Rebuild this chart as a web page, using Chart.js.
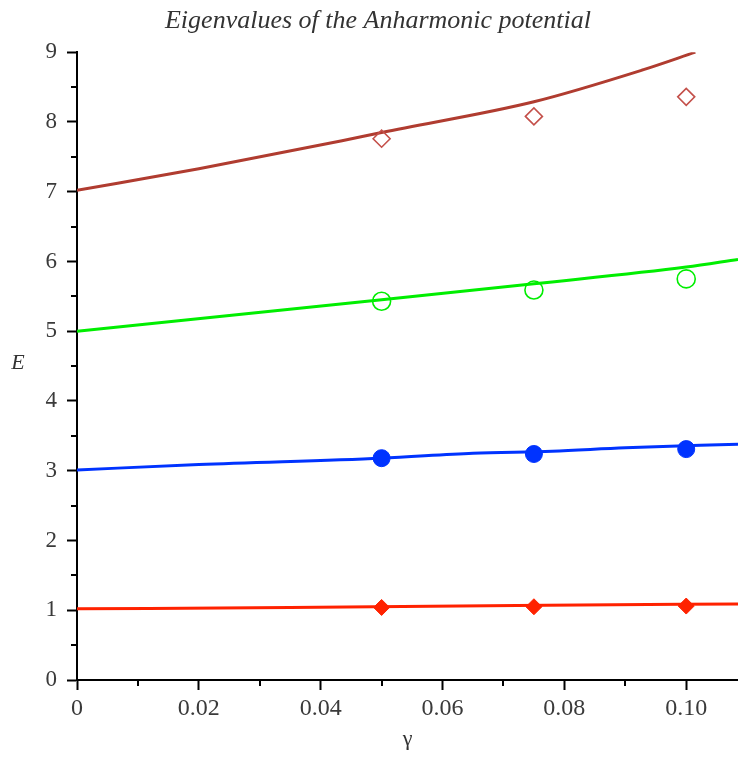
<!DOCTYPE html>
<html>
<head>
<meta charset="utf-8">
<script src="https://cdn.jsdelivr.net/npm/chart.js@4/dist/chart.umd.min.js"></script>
<style>
  body { margin: 0; background: #fff; }
  #wrap { width: 738px; height: 757px; position: relative; }
</style>
</head>
<body>
<div id="wrap"><canvas id="chart"></canvas></div>
<script>
// curves (gamma, E)
const redLineG = [0, 0.035, 0.077, 0.1085];
const redLineE = [1.02, 1.04, 1.07, 1.09];
const blueLineG = [0, 0.02, 0.05, 0.065, 0.078, 0.09, 0.1085];
const blueLineE = [3.01, 3.09, 3.18, 3.25, 3.28, 3.33, 3.38];
const greenLineG = [0, 0.05, 0.075, 0.1, 0.1085];
const greenLineE = [5.0, 5.45, 5.68, 5.92, 6.03];
const brownLineG = [0, 0.02, 0.0435, 0.05, 0.075, 0.093, 0.1015];
const brownLineE = [7.02, 7.33, 7.73, 7.85, 8.29, 8.75, 9.0];

// marker points
const pointG = [0.05, 0.075, 0.1];
const redPts = [1.04, 1.05, 1.06];
const bluePts = [3.18, 3.24, 3.31];
const greenPts = [5.43, 5.59, 5.75];
const brownPts = [7.76, 8.08, 8.36];

const titleText = 'Eigenvalues of the Anharmonic potential';
const xTitle = 'γ';
const yTitle = 'E';

const SERIF = '"Liberation Serif", "DejaVu Serif", serif';
const xy = (gs, es) => gs.map((g, i) => ({ x: g, y: es[i] }));

const lineSet = (gs, es, color) => ({
  data: xy(gs, es), showLine: true, borderColor: color, backgroundColor: color,
  borderWidth: 3, pointRadius: 0, cubicInterpolationMode: 'monotone', order: 2,
});
const markSet = (es, color, style, filled, r) => ({
  data: xy(pointG, es), showLine: false, pointStyle: style, pointRadius: r, pointHoverRadius: r,
  pointBorderColor: color, pointBackgroundColor: filled ? color : 'rgba(0,0,0,0)',
  pointBorderWidth: filled ? 1 : 1.6, order: 1,
});

const isMajorX = v => Math.round(v * 100) % 2 === 0;
const isMajorY = v => Math.abs(v - Math.round(v)) < 1e-6;

// short minor ticks, drawn through the scales
const minorTicks = {
  id: 'minorTicks',
  afterDraw(chart) {
    const { ctx, scales: { x, y } } = chart;
    ctx.save();
    ctx.strokeStyle = '#000';
    ctx.lineWidth = 2;
    ctx.beginPath();
    x.ticks.forEach(t => {
      if (isMajorX(t.value)) return;
      const px = Math.round(x.getPixelForValue(t.value));
      ctx.moveTo(px, x.top); ctx.lineTo(px, x.top + 6);
    });
    y.ticks.forEach(t => {
      if (isMajorY(t.value)) return;
      const py = Math.round(y.getPixelForValue(t.value));
      ctx.moveTo(y.right, py); ctx.lineTo(y.right - 6, py);
    });
    ctx.stroke();
    // upright axis label E
    ctx.fillStyle = '#333';
    ctx.font = 'italic 22px ' + SERIF;
    ctx.textAlign = 'center';
    ctx.textBaseline = 'middle';
    ctx.fillText(yTitle, 18, 363);
    ctx.restore();
  }
};

new Chart(document.getElementById('chart'), {
  type: 'scatter',
  data: {
    datasets: [
      lineSet(redLineG, redLineE, '#ff2200'),
      lineSet(blueLineG, blueLineE, '#0033ff'),
      lineSet(greenLineG, greenLineE, '#00ee00'),
      lineSet(brownLineG, brownLineE, '#b03c30'),
      markSet(redPts, '#ff2200', 'rectRot', true, 8),
      markSet(bluePts, '#0033ff', 'circle', true, 8.5),
      markSet(greenPts, '#00ee00', 'circle', false, 9),
      markSet(brownPts, '#c4504a', 'rectRot', false, 8.5),
    ]
  },
  options: {
    responsive: true, maintainAspectRatio: false, animation: false,
    layout: { autoPadding: false, padding: { left: 18, right: 0, top: 0, bottom: 5 } },
    plugins: {
      legend: { display: false },
      tooltip: { enabled: false },
      title: {
        display: true, text: titleText, color: '#333',
        font: { family: SERIF, size: 26, style: 'italic', weight: 'normal' },
        padding: { top: 6, bottom: 15 },
      },
    },
    scales: {
      x: {
        type: 'linear', min: 0, max: 0.1085,
        afterFit: s => { s.height = 72; s.paddingRight = 0; s.paddingLeft = 0; },
        border: { color: '#000', width: 2 },
        grid: {
          drawOnChartArea: false, tickLength: 10, tickWidth: 2,
          tickColor: c => (c.tick && isMajorX(c.tick.value)) ? '#000' : 'rgba(0,0,0,0)',
        },
        ticks: {
          stepSize: 0.01, includeBounds: false, maxRotation: 0, autoSkip: false, padding: 4,
          color: '#3a3a3a', font: { family: SERIF, size: 24 },
          callback: v => isMajorX(v) ? (Math.abs(v) < 1e-9 ? '0' : v.toFixed(2)) : '',
        },
        title: {
          display: true, text: xTitle, color: '#333',
          font: { family: SERIF, size: 22 }, padding: { top: 0, bottom: 0 },
        },
      },
      y: {
        type: 'linear', min: 0, max: 9,
        afterFit: s => { s.width = 59; },
        border: { color: '#000', width: 2 },
        grid: {
          drawOnChartArea: false, tickLength: 10, tickWidth: 2,
          tickColor: c => (c.tick && isMajorY(c.tick.value)) ? '#000' : 'rgba(0,0,0,0)',
        },
        ticks: {
          stepSize: 0.5, autoSkip: false, padding: 10,
          color: '#3a3a3a', font: { family: SERIF, size: 23 },
          callback: v => isMajorY(v) ? String(Math.round(v)) : '',
        },
      },
    },
  },
  plugins: [minorTicks],
});
</script>
</body>
</html>
